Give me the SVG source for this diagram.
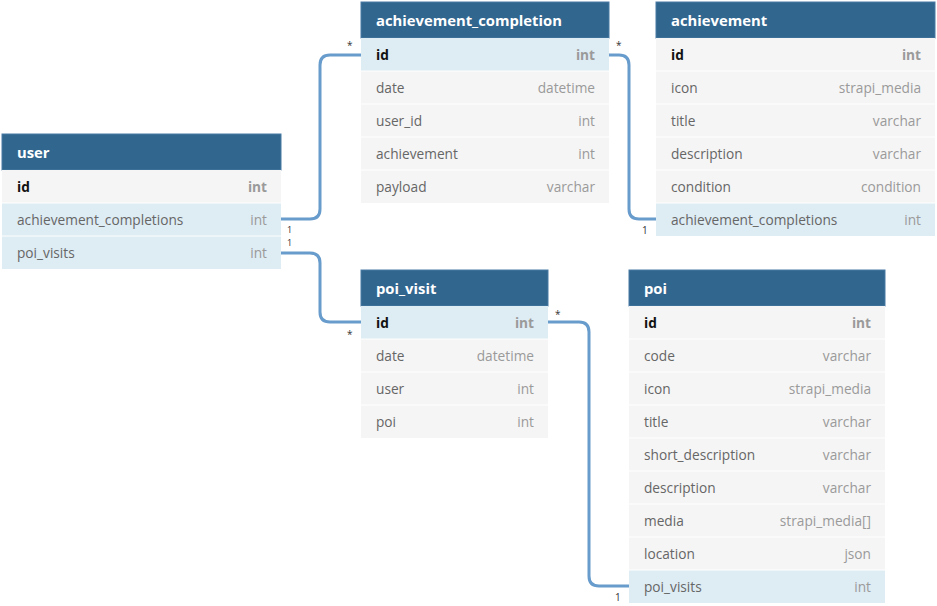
<svg xmlns="http://www.w3.org/2000/svg" width="937" height="606" viewBox="0 0 937 606">
<style>
.hd{fill:#31668f;stroke:#4a7aa3;stroke-width:1}
.r{fill:#f5f5f5}
.h{fill:#deecf4}
.sep{stroke:#ffffff;stroke-width:1}
.t{font-family:"Open Sans","Noto Sans",sans-serif;font-size:13.7px}
.ht{font-family:"Open Sans","Noto Sans",sans-serif;font-size:14.8px;font-weight:bold;fill:#ffffff}
.n{fill:#666666}
.k{fill:#111111;font-weight:bold}
.ty{fill:#9a9a9a;text-anchor:end}
.tk{fill:#9a9a9a;font-weight:bold;text-anchor:end}
.c{fill:none;stroke:#689ccc;stroke-width:3}
.l{font-family:"Open Sans","Noto Sans",sans-serif;font-size:10px;fill:#333333}
.l2{font-family:"Open Sans","Noto Sans",sans-serif;font-size:9px;fill:#333333}
</style>
<rect width="937" height="606" fill="#ffffff"/>
<g id="connectors">
<path class="c" d="M281 219 H310 Q320 219 320 209 V65 Q320 55 330 55 H361"/>
<path class="c" d="M281 253 H310 Q320 253 320 263 V312 Q320 322 330 322 H361"/>
<path class="c" d="M609 55 H619 Q629 55 629 65 V209 Q629 219 639 219 H656"/>
<path class="c" d="M548 322 H579 Q589 322 589 332 V576 Q589 586 599 586 H629"/>
<text class="l" x="347" y="49">*</text>
<text class="l2" x="287" y="233">1</text>
<text class="l2" x="287" y="246">1</text>
<text class="l" x="347" y="338">*</text>
<text class="l" x="616" y="49">*</text>
<text class="l" x="642" y="234">1</text>
<text class="l" x="555" y="318">*</text>
<text class="l" x="615" y="601">1</text>
</g>
<g id="user">
<rect class="hd" x="2" y="134" width="279" height="36"/>
<text class="ht" x="17" y="158">user</text>
<rect class="r" x="2" y="170" width="279" height="33"/>
<rect class="h" x="2" y="203" width="279" height="33"/>
<rect class="h" x="2" y="236" width="279" height="33"/>
<line class="sep" x1="2" y1="203" x2="281" y2="203"/>
<line class="sep" x1="2" y1="236" x2="281" y2="236"/>
<text class="t k" x="17" y="192">id</text><text class="t tk" x="267" y="192">int</text>
<text class="t n" x="17" y="225">achievement_completions</text><text class="t ty" x="267" y="225">int</text>
<text class="t n" x="17" y="258">poi_visits</text><text class="t ty" x="267" y="258">int</text>
</g>
<g id="achievement_completion">
<rect class="hd" x="361" y="2" width="248" height="36"/>
<text class="ht" x="376" y="26">achievement_completion</text>
<rect class="h" x="361" y="38" width="248" height="33"/>
<rect class="r" x="361" y="71" width="248" height="132"/>
<line class="sep" x1="361" y1="71" x2="609" y2="71"/>
<line class="sep" x1="361" y1="104" x2="609" y2="104"/>
<line class="sep" x1="361" y1="137" x2="609" y2="137"/>
<line class="sep" x1="361" y1="170" x2="609" y2="170"/>
<text class="t k" x="376" y="60">id</text><text class="t tk" x="595" y="60">int</text>
<text class="t n" x="376" y="93">date</text><text class="t ty" x="595" y="93">datetime</text>
<text class="t n" x="376" y="126">user_id</text><text class="t ty" x="595" y="126">int</text>
<text class="t n" x="376" y="159">achievement</text><text class="t ty" x="595" y="159">int</text>
<text class="t n" x="376" y="192">payload</text><text class="t ty" x="595" y="192">varchar</text>
</g>
<g id="achievement">
<rect class="hd" x="656" y="2" width="279" height="36"/>
<text class="ht" x="671" y="26">achievement</text>
<rect class="r" x="656" y="38" width="279" height="165"/>
<rect class="h" x="656" y="203" width="279" height="33"/>
<line class="sep" x1="656" y1="71" x2="935" y2="71"/>
<line class="sep" x1="656" y1="104" x2="935" y2="104"/>
<line class="sep" x1="656" y1="137" x2="935" y2="137"/>
<line class="sep" x1="656" y1="170" x2="935" y2="170"/>
<line class="sep" x1="656" y1="203" x2="935" y2="203"/>
<text class="t k" x="671" y="60">id</text><text class="t tk" x="921" y="60">int</text>
<text class="t n" x="671" y="93">icon</text><text class="t ty" x="921" y="93">strapi_media</text>
<text class="t n" x="671" y="126">title</text><text class="t ty" x="921" y="126">varchar</text>
<text class="t n" x="671" y="159">description</text><text class="t ty" x="921" y="159">varchar</text>
<text class="t n" x="671" y="192">condition</text><text class="t ty" x="921" y="192">condition</text>
<text class="t n" x="671" y="225">achievement_completions</text><text class="t ty" x="921" y="225">int</text>
</g>
<g id="poi_visit">
<rect class="hd" x="361" y="270" width="187" height="36"/>
<text class="ht" x="376" y="294">poi_visit</text>
<rect class="h" x="361" y="306" width="187" height="33"/>
<rect class="r" x="361" y="339" width="187" height="99"/>
<line class="sep" x1="361" y1="339" x2="548" y2="339"/>
<line class="sep" x1="361" y1="372" x2="548" y2="372"/>
<line class="sep" x1="361" y1="405" x2="548" y2="405"/>
<text class="t k" x="376" y="328">id</text><text class="t tk" x="534" y="328">int</text>
<text class="t n" x="376" y="361">date</text><text class="t ty" x="534" y="361">datetime</text>
<text class="t n" x="376" y="394">user</text><text class="t ty" x="534" y="394">int</text>
<text class="t n" x="376" y="427">poi</text><text class="t ty" x="534" y="427">int</text>
</g>
<g id="poi">
<rect class="hd" x="629" y="270" width="256" height="36"/>
<text class="ht" x="644" y="294">poi</text>
<rect class="r" x="629" y="306" width="256" height="264"/>
<rect class="h" x="629" y="570" width="256" height="33"/>
<line class="sep" x1="629" y1="339" x2="885" y2="339"/>
<line class="sep" x1="629" y1="372" x2="885" y2="372"/>
<line class="sep" x1="629" y1="405" x2="885" y2="405"/>
<line class="sep" x1="629" y1="438" x2="885" y2="438"/>
<line class="sep" x1="629" y1="471" x2="885" y2="471"/>
<line class="sep" x1="629" y1="504" x2="885" y2="504"/>
<line class="sep" x1="629" y1="537" x2="885" y2="537"/>
<line class="sep" x1="629" y1="570" x2="885" y2="570"/>
<text class="t k" x="644" y="328">id</text><text class="t tk" x="871" y="328">int</text>
<text class="t n" x="644" y="361">code</text><text class="t ty" x="871" y="361">varchar</text>
<text class="t n" x="644" y="394">icon</text><text class="t ty" x="871" y="394">strapi_media</text>
<text class="t n" x="644" y="427">title</text><text class="t ty" x="871" y="427">varchar</text>
<text class="t n" x="644" y="460">short_description</text><text class="t ty" x="871" y="460">varchar</text>
<text class="t n" x="644" y="493">description</text><text class="t ty" x="871" y="493">varchar</text>
<text class="t n" x="644" y="526">media</text><text class="t ty" x="871" y="526">strapi_media[]</text>
<text class="t n" x="644" y="559">location</text><text class="t ty" x="871" y="559">json</text>
<text class="t n" x="644" y="592">poi_visits</text><text class="t ty" x="871" y="592">int</text>
</g>
</svg>
